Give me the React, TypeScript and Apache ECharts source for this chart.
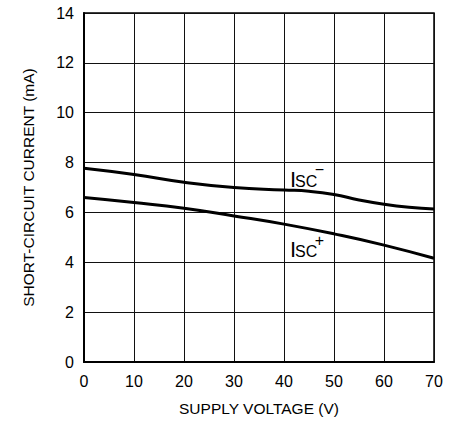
import React, { useEffect, useRef } from "react";
import * as echarts from "echarts";

const voltage = [0, 10, 20, 30, 40, 45, 50, 55, 60, 65, 70];
const iscMinus = [7.77, 7.52, 7.21, 7.0, 6.9, 6.85, 6.72, 6.5, 6.33, 6.21, 6.14];
const voltagePlus = [0, 10, 20, 30, 40, 50, 60, 70];
const iscPlus = [6.6, 6.4, 6.17, 5.86, 5.53, 5.14, 4.69, 4.16];

const xTitle = "SUPPLY VOLTAGE (V)";
const yTitle = "SHORT-CIRCUIT CURRENT (mA)";

const FONT = "'Liberation Sans', Arial, Helvetica, sans-serif";

export default function App() {
  const ref = useRef<HTMLDivElement>(null);
  useEffect(() => {
    if (!ref.current) return;
    const chart = echarts.init(ref.current, null, { renderer: "svg" });
    const label = (y: number, sup: string, supY: number, supSize: number) => [
      { type: "text", x: 290, y: y, style: { text: "I", font: `22px ${FONT}`, fill: "#000", verticalAlign: "middle", align: "left" } },
      { type: "text", x: 295, y: y + 2.5, style: { text: "SC", font: `16px ${FONT}`, fill: "#000", verticalAlign: "middle", align: "left" } },
      { type: "text", x: 319.5, y: supY, style: { text: sup, font: `${supSize}px ${FONT}`, fill: "#000", verticalAlign: "middle", align: "center" } },
    ];
    chart.setOption({
      animation: false,
      backgroundColor: "#fff",
      textStyle: { fontFamily: FONT },
      grid: { left: 84, top: 13, width: 350, height: 350, show: true, borderColor: "#000", borderWidth: 1.5, backgroundColor: "transparent" },
      xAxis: {
        type: "value",
        min: 0,
        max: 70,
        interval: 10,
        name: xTitle,
        nameLocation: "middle",
        nameGap: 38,
        nameTextStyle: { fontSize: 15.5, color: "#000", fontFamily: FONT },
        axisLine: { show: true, lineStyle: { color: "#000", width: 2 } },
        axisTick: { show: false },
        axisLabel: { fontSize: 16, color: "#000", margin: 11, fontFamily: FONT },
        splitLine: { show: true, lineStyle: { color: "#111", width: 1 } },
      },
      yAxis: {
        type: "value",
        min: 0,
        max: 14,
        interval: 2,
        name: yTitle,
        nameLocation: "middle",
        nameGap: 48,
        nameTextStyle: { fontSize: 15.5, color: "#000", fontFamily: FONT },
        axisLine: { show: true, lineStyle: { color: "#000", width: 2 } },
        axisTick: { show: false },
        axisLabel: { fontSize: 16, color: "#000", margin: 10, fontFamily: FONT },
        splitLine: { show: true, lineStyle: { color: "#111", width: 1 } },
      },
      series: [
        {
          type: "line",
          data: voltage.map((v, i) => [v, iscMinus[i]]),
          smooth: true,
          showSymbol: false,
          lineStyle: { color: "#000", width: 3 },
        },
        {
          type: "line",
          data: voltagePlus.map((v, i) => [v, iscPlus[i]]),
          smooth: true,
          showSymbol: false,
          lineStyle: { color: "#000", width: 3 },
        },
      ],
      graphic: [...label(179, "\u2212", 169.5, 16), ...label(249, "+", 240, 16)],
    });
    return () => chart.dispose();
  }, []);
  return <div ref={ref} style={{ position: "fixed", left: 0, top: 0, width: 462, height: 421 }} />;
}
